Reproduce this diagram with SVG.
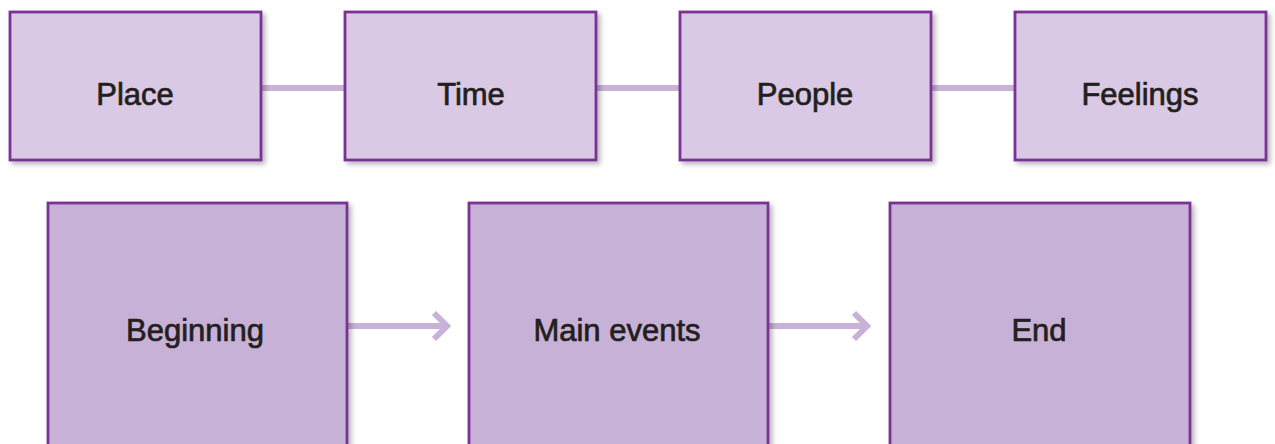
<svg xmlns="http://www.w3.org/2000/svg" width="1275" height="444" viewBox="0 0 1275 444">
<defs>
<filter id="sh" x="-10%" y="-10%" width="125%" height="125%">
<feDropShadow dx="3" dy="3" stdDeviation="2.5" flood-color="#000" flood-opacity="0.28"/>
</filter>
</defs>
<style>
.top{fill:#D9C9E4;stroke:#7A3296;stroke-width:2.8;filter:url(#sh)}
.bot{fill:#C8B1D6;stroke:#7A3296;stroke-width:2.8;filter:url(#sh)}
.lbl{font-family:"Liberation Sans",Arial,sans-serif;font-size:31px;fill:#231F20;stroke:#231F20;stroke-width:0.7;text-anchor:middle}
.con{stroke:#C9B2D8;stroke-width:6;fill:none}
</style>
<rect width="1275" height="444" fill="#fff"/>
<g id="connectors">
<line class="con" x1="261" y1="88" x2="345" y2="88"/>
<line class="con" x1="596" y1="88" x2="680" y2="88"/>
<line class="con" x1="931" y1="88" x2="1015" y2="88"/>
<line class="con" x1="348" y1="326" x2="448" y2="326"/>
<polyline class="con" points="434,313 447,326 434,339"/>
<line class="con" x1="769" y1="326" x2="868" y2="326"/>
<polyline class="con" points="854,313 867,326 854,339"/>
</g>
<g id="place"><rect class="top" x="10" y="12" width="251" height="148"/><text class="lbl" x="135" y="105">Place</text></g>
<g id="time"><rect class="top" x="345" y="12" width="251" height="148"/><text class="lbl" x="471" y="105">Time</text></g>
<g id="people"><rect class="top" x="680" y="12" width="251" height="148"/><text class="lbl" x="805" y="105">People</text></g>
<g id="feelings"><rect class="top" x="1015" y="12" width="251" height="148"/><text class="lbl" x="1140" y="105">Feelings</text></g>
<g id="beginning"><rect class="bot" x="48" y="203" width="299" height="260"/><text class="lbl" x="195" y="341">Beginning</text></g>
<g id="main-events"><rect class="bot" x="469" y="203" width="299" height="260"/><text class="lbl" x="617" y="341">Main events</text></g>
<g id="end"><rect class="bot" x="890" y="203" width="300" height="260"/><text class="lbl" x="1039" y="341">End</text></g>
</svg>
